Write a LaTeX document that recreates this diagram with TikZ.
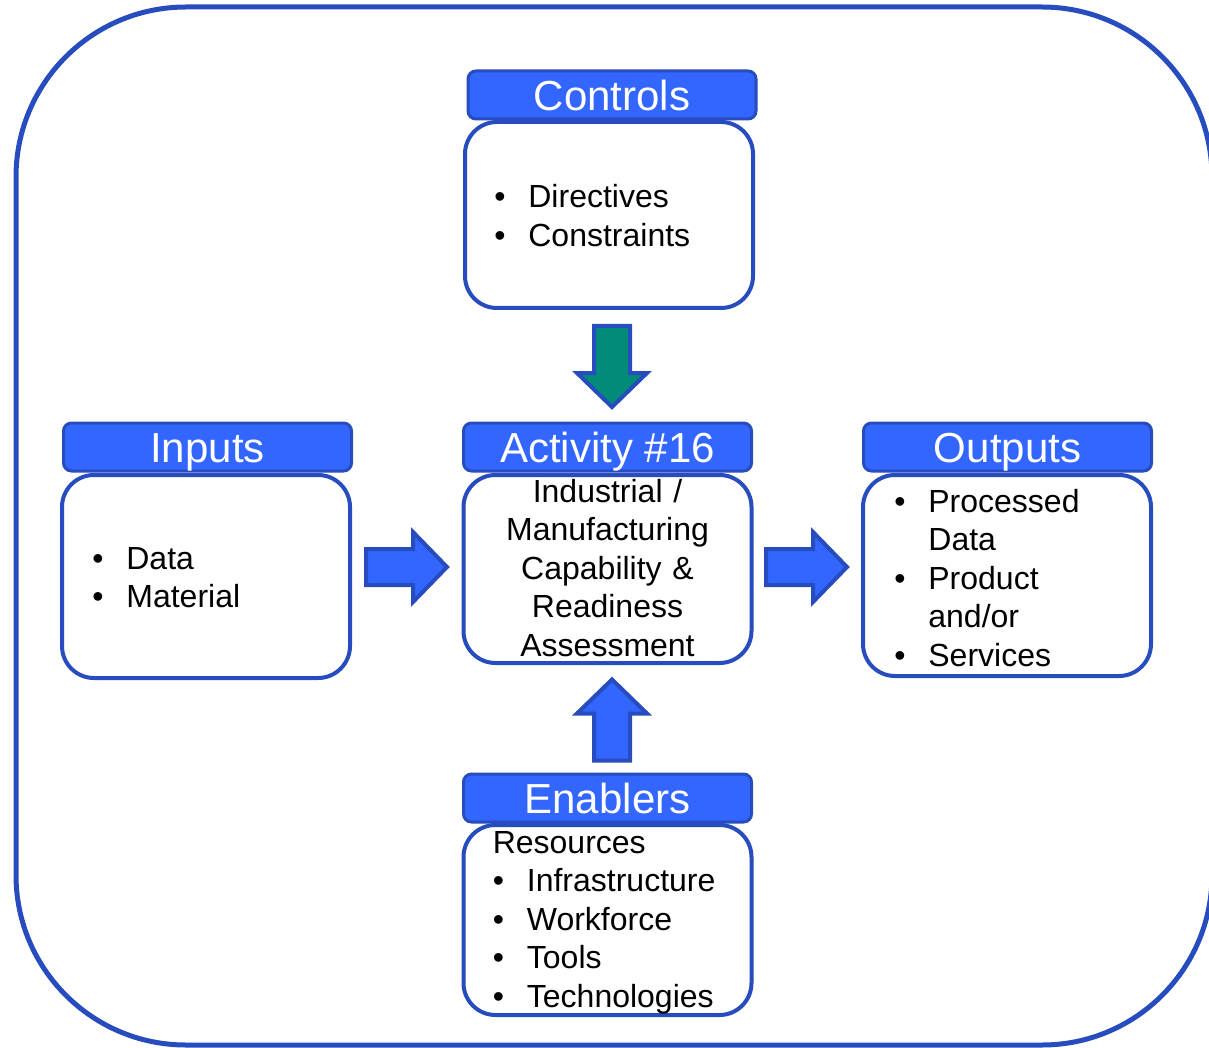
\documentclass[tikz,border=0pt]{standalone}
\usepackage{fontspec}
\setmainfont{Liberation Sans}
\definecolor{edgeblue}{RGB}{38,76,190}
\definecolor{headblue}{RGB}{51,102,255}
\definecolor{arrowteal}{RGB}{0,140,120}
% bullet with a fixed hanging width
\newcommand\bul{\makebox[25.6pt][l]{•}}
\newcommand\hang{\hspace*{25.6pt}}
% block arrow centred on a named coordinate, pointing along the given angle
\newcommand\blockarrow[3]{%
  \filldraw[arrowline, fill=#3, shift={(#1)}, rotate=#2]
    (-41.5,-18) -- (5.5,-18) -- (5.5,-35) -- (39.5,0)
    -- (5.5,35) -- (5.5,18) -- (-41.5,18) -- cycle;}
\begin{document}
\begin{tikzpicture}[x=0.75pt,y=-0.75pt,
  header/.style={draw=edgeblue, fill=headblue, line width=2.25pt,
    rounded corners=6pt, minimum width=216pt, minimum height=36pt,
    inner sep=0pt, text=white, font=\fontsize{31.5}{36}\selectfont,
    text height=22.6pt, text depth=0pt},
  bodybox/.style={draw=edgeblue, fill=white, line width=3pt,
    rounded corners=24pt, minimum width=216pt, inner sep=0pt},
  bodytext/.style={font=\fontsize{24}{28.9}\selectfont, inner sep=0pt,
    anchor=base west, align=left, text width=205pt},
  arrowline/.style={draw=edgeblue, line width=3pt, miter limit=10}]
\useasboundingbox (0,0) rectangle (1209,1048);

% outer frame
\draw[draw=edgeblue, line width=3.75pt, rounded corners=127.5pt]
  (16,7) rectangle (1212,1045);

% Controls
\node[bodybox, minimum height=139.5pt] (ctlbody) at (609,215) {};
\node[header] (ctlhead) at (612,95) {Controls};
\node[bodytext] (ctltext) at (494,208) {\bul Directives\\\bul Constraints};

% Inputs
\node[bodybox, minimum height=152.25pt] (inbody) at (206,576.5) {};
\node[header] (inhead) at (207.5,447) {Inputs};
\node[bodytext] (intext) at (92,569) {\bul Data\\\bul Material};

% Activity
\node[bodybox, minimum height=141pt] (actbody) at (607.5,569) {};
\node[header] (acthead) at (607.5,447) {Activity \#16};
\node[bodytext, anchor=base, align=center, text width=216pt] (acttext) at (607.5,502)
  {Industrial /\\Manufacturing\\Capability \&\\Readiness\\Assessment};

% Outputs
\node[bodybox, minimum height=150.75pt] (outbody) at (1007,575.5) {};
\node[header] (outhead) at (1007.5,447) {Outputs};
\node[bodytext] (outtext) at (894,512)
  {\bul Processed\\\hang Data\\\bul Product\\\hang and/or\\\bul Services};

% Enablers
\node[bodybox, minimum height=142.5pt] (enbody) at (607.5,920) {};
\node[header] (enhead) at (607.5,798) {Enablers};
\node[bodytext] (entext) at (492.5,853)
  {Resources\\\bul Infrastructure\\\bul Workforce\\\bul Tools\\\bul Technologies};

% flow arrows between the boxes
\coordinate (arrin) at (407.5,567);
\coordinate (arrout) at (807.5,567);
\coordinate (arrctl) at (612,367.5);
\coordinate (arren) at (612,719);
\blockarrow{arrin}{0}{headblue}
\blockarrow{arrout}{0}{headblue}
\blockarrow{arrctl}{-90}{arrowteal}
\blockarrow{arren}{90}{headblue}
\end{tikzpicture}
\end{document}
